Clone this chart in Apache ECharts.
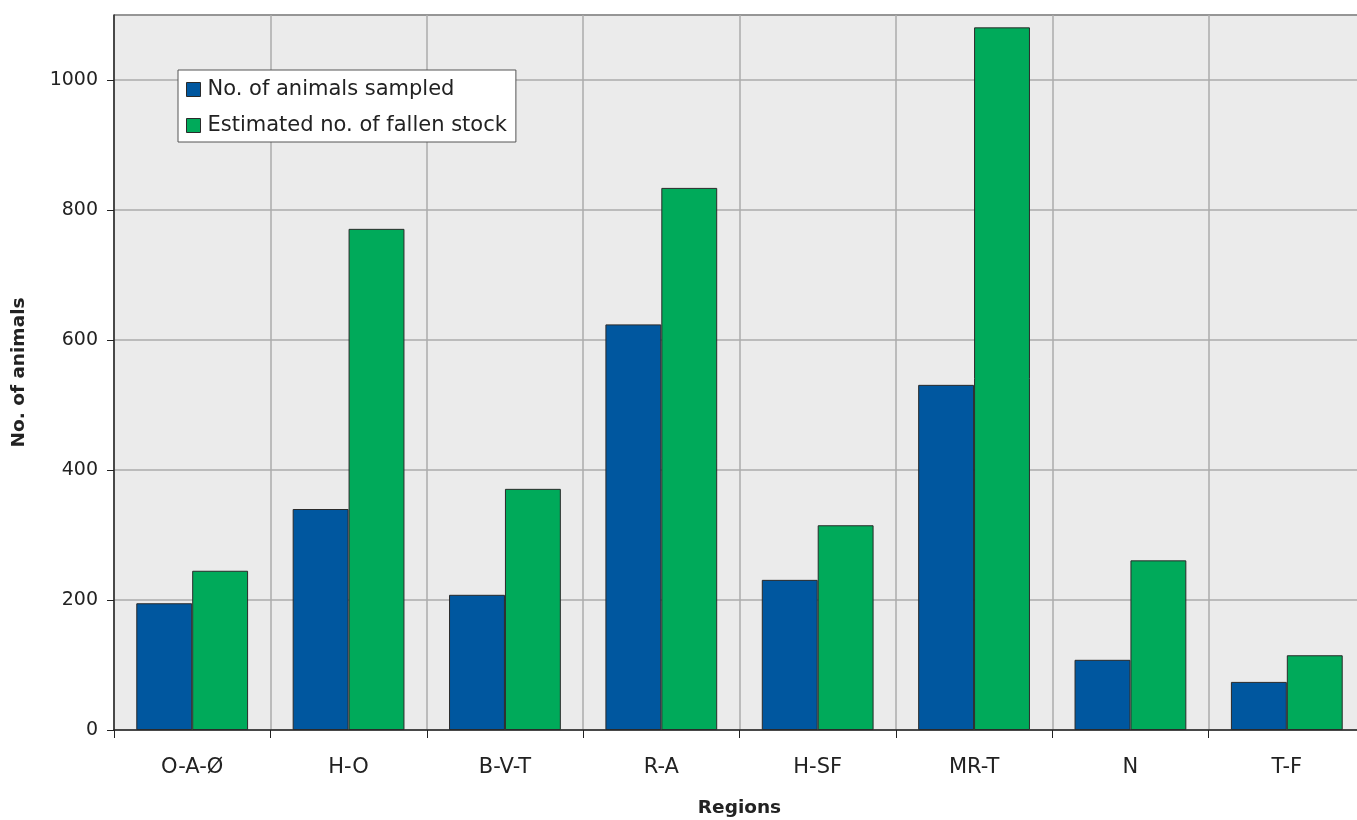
<!DOCTYPE html>
<html><head><meta charset="utf-8">
<script src="https://cdn.jsdelivr.net/npm/echarts@6/dist/echarts.min.js"></script>
<style>html,body{margin:0;padding:0;background:#fff}#c{width:1357px;height:820px}</style>
</head><body><div id="c"></div>
<script>
const categories = ['O-A-Ø','H-O','B-V-T','R-A','H-SF','MR-T','N','T-F'];
const sampled = [195, 340, 208, 624, 231, 531, 108, 74];
const fallen = [245, 771, 371, 834, 315, 1081, 261, 115];
const seriesNames = ['No. of animals sampled','Estimated no. of fallen stock'];

const FONT = 'DejaVu Sans';
const chart = echarts.init(document.getElementById('c'), null, {renderer:'canvas'});
chart.setOption({
  animation:false,
  textStyle:{fontFamily:FONT},
  grid:{left:114, top:15, width:1251, height:715, show:true, backgroundColor:'#EBEBEB', borderWidth:0,
        containLabel:false, outerBoundsMode:'none'},
  legend:{
    left:178, top:70, orient:'vertical', backgroundColor:'#fff', borderColor:'#555', borderWidth:1,
    padding:[9,9,6,8], itemGap:15, itemWidth:14, itemHeight:14, icon:'rect',
    textStyle:{fontFamily:FONT, fontSize:21, color:'#222', padding:[0,0,0,2]},
    itemStyle:{borderColor:'#2a2a2a', borderWidth:1},
    data:seriesNames
  },
  xAxis:{
    type:'category', data:categories,
    name:'Regions', nameLocation:'middle', nameGap:69,
    nameTextStyle:{fontFamily:FONT, fontSize:18.5, fontWeight:'bold', color:'#222'},
    axisLine:{lineStyle:{color:'#222', width:1.5}},
    axisTick:{show:true, length:8, lineStyle:{color:'#222'}},
    axisLabel:{fontFamily:FONT, fontSize:21, color:'#222', margin:27},
    splitLine:{show:true, lineStyle:{color:'#ABABAB', width:1.5}}
  },
  yAxis:{
    type:'value', min:0, max:1100, interval:200,
    name:'No. of animals', nameLocation:'middle', nameGap:85, nameRotate:90,
    nameTextStyle:{fontFamily:FONT, fontSize:18.5, fontWeight:'bold', color:'#222'},
    axisLine:{show:true, lineStyle:{color:'#222', width:1.5}},
    axisTick:{show:true, length:7, lineStyle:{color:'#222'}},
    axisLabel:{fontFamily:FONT, fontSize:19, color:'#222', margin:16, showMaxLabel:false,
               formatter:function(v){return String(v);}},
    splitLine:{show:true, lineStyle:{color:'#ABABAB', width:1.5}}
  },
  series:[
    {name:seriesNames[0], type:'bar', data:sampled, barGap:'0%', barCategoryGap:'28.5%',
     itemStyle:{color:'#00579F', borderColor:'#2a2a2a', borderWidth:1}},
    {name:seriesNames[1], type:'bar', data:fallen, barGap:'0%', barCategoryGap:'28.5%',
     itemStyle:{color:'#00AA5A', borderColor:'#2a2a2a', borderWidth:1}}
  ],
  graphic:[{type:'line', shape:{x1:114, y1:15, x2:1357, y2:15}, style:{stroke:'#222', lineWidth:1.5}, silent:true}]
});
</script></body></html>
